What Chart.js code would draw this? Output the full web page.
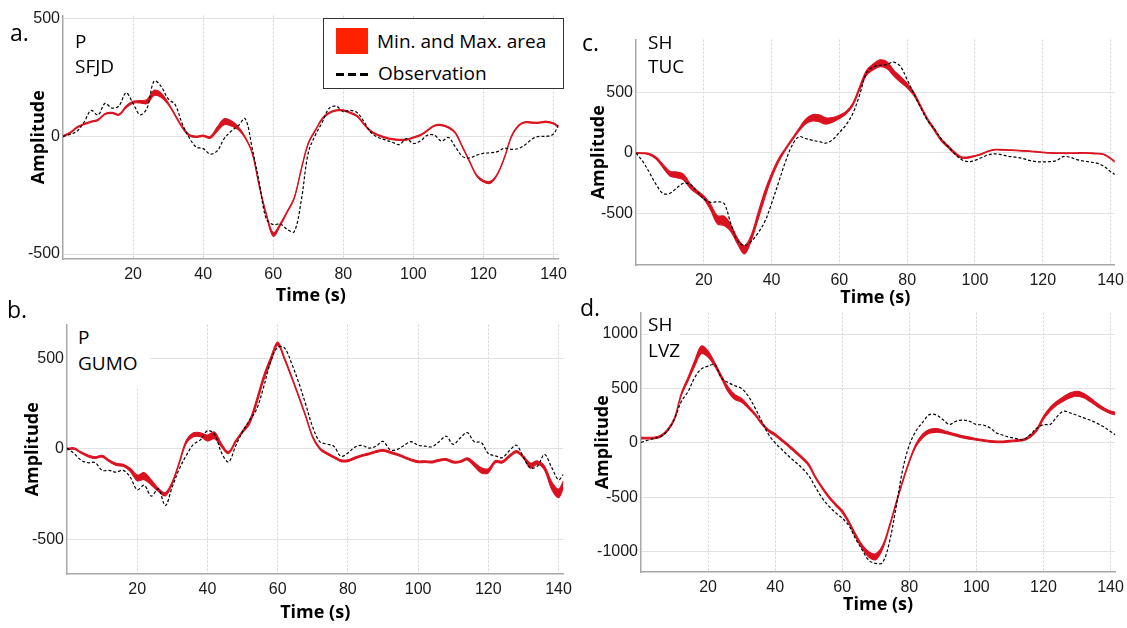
<!DOCTYPE html>
<html>
<head>
<meta charset="utf-8">
<script src="https://cdn.jsdelivr.net/npm/chart.js@4.4.0/dist/chart.umd.min.js"></script>
<style>
  body { margin: 0; width: 1127px; height: 628px; position: relative; overflow: hidden; background: #fff; font-family: 'Open Sans', sans-serif; color: #000; }
  canvas { position: absolute; z-index: 1; }
  .tag { position: absolute; z-index: 2; font-size: 23px; line-height: 23px; }
  .stn { position: absolute; z-index: 2; font-size: 19px; background: #fff; white-space: nowrap; box-sizing: border-box; }
  .lg { position: absolute; z-index: 3; }
  .lgtxt { position: absolute; z-index: 3; font-size: 19px; line-height: 19px; white-space: nowrap; }
</style>
</head>
<body>
<div class="tag" style="left:10px;top:21px">a.</div>
<div class="tag" style="left:7px;top:298px">b.</div>
<div class="tag" style="left:582px;top:31px">c.</div>
<div class="tag" style="left:580px;top:296px">d.</div>

<div class="stn" style="left:75px;top:29px;line-height:25px">P<br>SFJD</div>
<div class="stn" style="left:68px;top:323px;width:82px;height:63px;padding:1px 0 0 10px;line-height:26px">P<br>GUMO</div>
<div class="stn" style="left:648px;top:30px;line-height:24px">SH<br>TUC</div>
<div class="stn" style="left:648px;top:311px;line-height:26px">SH<br>LVZ</div>

<div class="lg" style="left:323px;top:18px;width:241px;height:71px;border:1.5px solid #333;box-sizing:border-box;background:#fff"></div>
<div class="lg" style="left:336px;top:28px;width:32px;height:26px;background:#ff2200"></div>
<div class="lg" style="left:336px;top:73px;width:8px;height:2.5px;background:#000"></div>
<div class="lg" style="left:348px;top:73px;width:8px;height:2.5px;background:#000"></div>
<div class="lg" style="left:360px;top:73px;width:8px;height:2.5px;background:#000"></div>
<div class="lgtxt" style="left:377px;top:32px">Min. and Max. area</div>
<div class="lgtxt" style="left:378px;top:64px">Observation</div>

<script>
// time axis (s)
const time = [
  0, 2, 4, 6, 8, 10, 12, 14, 16, 18, 20, 22,
  24, 26, 28, 30, 32, 34, 36, 38, 40, 42, 44, 46,
  48, 50, 52, 54, 56, 58, 60, 62, 64, 66, 68, 70,
  72, 74, 76, 78, 80, 82, 84, 86, 88, 90, 92, 94,
  96, 98, 100, 102, 104, 106, 108, 110, 112, 114, 116, 118,
  120, 122, 124, 126, 128, 130, 132, 134, 136, 138, 140, 141.4
];
const xTicks = [20, 40, 60, 80, 100, 120, 140];

// a. P - SFJD
const aObs = [
  0, 8, 22, 60, 110, 91, 140, 120, 130, 185, 140, 92,
  120, 235, 212, 160, 135, 55, -5, -45, -52, -75, -62, -10,
  22, 45, 75, -50, -195, -350, -375, -372, -395, -405, -273, -70,
  5, 60, 120, 128, 105, 110, 100, 60, 15, -5, -15, -25,
  -35, -10, -30, -20, 5, 5, -20, -5, -45, -85, -92, -80,
  -72, -70, -65, -50, -55, -52, -35, -10, 0, 0, 10, 50
];
const aRed = [
  0, 15, 38, 52, 62, 70, 95, 100, 92, 125, 145, 147,
  148, 185, 175, 140, 90, 40, 5, -2, 3, -5, 30, 62,
  55, 35, -5, -70, -210, -330, -417, -375, -320, -262, -140, -30,
  25, 75, 100, 110, 110, 100, 85, 50, 20, 5, -5, -12,
  -15, -14, -5, 5, 25, 45, 48, 38, 15, -45, -105, -165,
  -190, -195, -160, -90, 0, 45, 60, 58, 58, 62, 55, 40
];
const aSpread = [
  5, 5, 5, 5, 5, 5, 5, 5, 5, 8, 8, 10,
  18, 22, 18, 8, 6, 6, 6, 6, 6, 8, 18, 25,
  22, 12, 6, 6, 6, 10, 15, 10, 6, 6, 6, 6,
  5, 5, 5, 5, 5, 5, 5, 5, 5, 5, 5, 5,
  5, 5, 5, 5, 5, 5, 5, 5, 5, 5, 5, 6,
  8, 8, 5, 5, 5, 5, 5, 5, 5, 5, 5, 5
];
const aTicks = [-500, 0, 500];

// b. P - GUMO
const bObs = [
  5, -25, -62, -76, -75, -118, -118, -128, -118, -155, -225, -200,
  -260, -220, -312, -208, -110, -35, 25, 50, 100, 82, -20, -72,
  15, 95, 158, 218, 340, 480, 560, 555, 470, 365, 245, 120,
  40, 27, 15, -40, -22, 10, 20, 5, 15, 42, -4, -4,
  20, 40, 20, 15, 12, 40, 70, 25, 60, 90, 40, 35,
  -25, -38, -48, -10, 20, -45, -105, -95, -30, -100, -170, -140
];
const bRed = [
  0, 2, -20, -38, -48, -40, -65, -85, -90, -115, -160, -150,
  -185, -225, -250, -185, -75, 40, 78, 78, 60, 75, 20, -20,
  40, 95, 148, 260, 390, 490, 580, 495, 395, 290, 180, 65,
  2, -25, -45, -65, -65, -50, -37, -27, -15, -8, -18, -30,
  -45, -60, -71, -70, -72, -62, -58, -72, -70, -55, -85, -118,
  -120, -70, -72, -40, -15, -45, -92, -75, -105, -200, -245, -195
];
const bSpread = [
  8, 8, 8, 10, 10, 10, 10, 12, 12, 18, 32, 38,
  28, 18, 18, 12, 12, 18, 22, 22, 32, 38, 18, 12,
  12, 12, 22, 28, 28, 28, 18, 12, 12, 10, 10, 10,
  10, 10, 10, 10, 10, 10, 10, 10, 10, 10, 10, 10,
  10, 10, 10, 10, 10, 10, 10, 10, 10, 12, 22, 28,
  22, 12, 12, 12, 12, 12, 28, 18, 22, 42, 48, 38
];
const bTicks = [-500, 0, 500];

// c. SH - TUC
const cObs = [
  0, -70, -165, -265, -337, -335, -292, -252, -262, -318, -380, -410,
  -405, -420, -590, -730, -768, -735, -665, -570, -420, -250, -80, 60,
  135, 120, 105, 95, 82, 110, 170, 235, 330, 485, 665, 715,
  728, 735, 755, 720, 610, 490, 375, 270, 200, 120, 55, -5,
  -55, -72, -62, -38, -15, -8, -15, -28, -35, -45, -62, -72,
  -74, -72, -65, -30, -35, -55, -67, -75, -85, -110, -155, -180
];
const cRed = [
  0, -2, -10, -45, -110, -172, -182, -200, -275, -325, -370, -450,
  -555, -565, -625, -735, -805, -705, -525, -345, -190, -65, 28, 110,
  190, 260, 292, 288, 266, 275, 300, 335, 405, 540, 665, 715,
  745, 730, 665, 612, 560, 490, 385, 280, 195, 110, 55, 0,
  -37, -38, -25, -8, 15, 27, 26, 24, 22, 18, 15, 10,
  5, 0, -1, -2, -2, -1, 0, -2, -5, -12, -45, -75
];
const cSpread = [
  8, 8, 12, 18, 28, 38, 48, 48, 38, 28, 28, 48,
  68, 78, 58, 48, 68, 48, 58, 58, 38, 28, 18, 18,
  22, 38, 52, 58, 52, 38, 28, 22, 22, 28, 38, 48,
  58, 58, 48, 48, 38, 28, 18, 18, 18, 18, 18, 18,
  12, 12, 8, 8, 6, 6, 6, 6, 6, 6, 6, 6,
  6, 6, 6, 6, 6, 6, 6, 6, 6, 6, 8, 12
];
const cTicks = [-500, 0, 500];

// d. SH - LVZ
const dObs = [
  5, 25, 42, 60, 115, 220, 380, 470, 600, 680, 705, 720,
  595, 555, 525, 500, 430, 322, 200, 80, 0, -60, -120, -175,
  -230, -300, -405, -505, -580, -640, -690, -760, -880, -985, -1080, -1106,
  -1100, -920, -600, -250, -20, 110, 190, 260, 258, 215, 170, 200,
  210, 198, 170, 165, 140, 92, 70, 52, 40, 30, 75, 135,
  168, 170, 240, 292, 275, 255, 230, 208, 180, 148, 105, 76
];
const dRed = [
  45, 45, 46, 65, 120, 225, 445, 585, 730, 855, 815, 720,
  605, 490, 420, 392, 330, 262, 180, 115, 75, 25, -25, -80,
  -135, -200, -315, -410, -495, -565, -630, -730, -850, -955, -1025, -1045,
  -960, -775, -560, -355, -170, -20, 65, 106, 115, 105, 88, 72,
  55, 44, 33, 23, 15, 10, 10, 16, 22, 28, 60, 120,
  230, 310, 365, 405, 438, 452, 435, 395, 350, 310, 280, 272
];
const dSpread = [
  15, 15, 15, 15, 20, 20, 25, 35, 50, 70, 55, 35,
  30, 45, 45, 35, 25, 20, 20, 20, 20, 20, 20, 20,
  20, 20, 20, 20, 20, 20, 25, 25, 30, 35, 50, 55,
  35, 25, 20, 20, 20, 25, 35, 35, 35, 25, 20, 20,
  20, 20, 15, 15, 15, 15, 15, 15, 15, 15, 20, 25,
  30, 35, 35, 40, 45, 45, 40, 35, 30, 25, 25, 25
];
const dTicks = [-1000, -500, 0, 500, 1000];

const RED = 'rgb(218,18,32)';
const YW = 60, PT = 10, PR = 14, XH = 52;
const tickFont = { family: "'Liberation Sans Narrow', 'Liberation Sans', sans-serif", size: 16 };
const titleFont = { family: "'Open Sans', sans-serif", size: 18, weight: 'bold' };

const panels = [
  { obs: aObs, red: aRed, spread: aSpread, yTicks: aTicks, area: { l: 63, t: 13, r: 559, b: 259 }, xMax: 141.5, yMin: -521, yMax: 513, yPad: 25, xPad: 4 },
  { obs: bObs, red: bRed, spread: bSpread, yTicks: bTicks, area: { l: 67, t: 322, r: 564, b: 574 }, xMax: 141.4, yMin: -689, yMax: 685, yPad: 15, xPad: 2 },
  { obs: cObs, red: cRed, spread: cSpread, yTicks: cTicks, area: { l: 636, t: 37, r: 1116, b: 265 }, xMax: 141.2, yMin: -931, yMax: 942, yPad: 12, xPad: 8 },
  { obs: dObs, red: dRed, spread: dSpread, yTicks: dTicks, area: { l: 641, t: 310, r: 1116, b: 572 }, xMax: 141.4, yMin: -1185, yMax: 1197, yPad: 11, xPad: 8 }
];

panels.forEach(p => {
  const { l, t, r, b } = p.area;
  const W = r - l + YW + PR, H = b - t + PT + XH;
  const cv = document.createElement('canvas');
  cv.width = W; cv.height = H;
  cv.style.left = (l - YW) + 'px'; cv.style.top = (t - PT) + 'px';
  cv.style.width = W + 'px'; cv.style.height = H + 'px';
  document.body.appendChild(cv);

  const obs = p.obs.map((v, i) => ({ x: time[i], y: v }));
  const hi = p.red.map((v, i) => ({ x: time[i], y: v + p.spread[i] / 2 }));
  const lo = p.red.map((v, i) => ({ x: time[i], y: v - p.spread[i] / 2 }));

  new Chart(cv, {
    type: 'line',
    data: {
      datasets: [
        { label: 'Observation', data: obs, borderColor: '#000', borderWidth: 1.2, borderDash: [3, 2], fill: false },
        { label: 'Max', data: hi, borderColor: RED, borderWidth: 1.1, fill: false },
        { label: 'Min', data: lo, borderColor: RED, borderWidth: 1.1, backgroundColor: RED, fill: '-1' }
      ]
    },
    options: {
      responsive: false,
      animation: false,
      events: [],
      layout: { padding: { top: PT, right: PR, left: 0, bottom: 0 } },
      elements: { point: { radius: 0 }, line: { tension: 0.35 } },
      plugins: { legend: { display: false }, tooltip: { enabled: false } },
      scales: {
        x: {
          type: 'linear', min: 0, max: p.xMax,
          afterBuildTicks: s => { s.ticks = xTicks.map(v => ({ value: v })); },
          afterFit: s => { s.height = XH; },
          grid: { color: '#d2d2d2', lineWidth: 1, drawTicks: false },
          border: { color: '#a8a8a8', width: 1.5, dash: [2, 2] },
          ticks: { padding: 6, color: '#1a1a1a', font: tickFont, maxRotation: 0, autoSkip: false, callback: v => String(v) },
          title: { display: true, text: 'Time (s)', color: '#000', font: titleFont, padding: { top: 0, bottom: p.xPad } }
        },
        y: {
          type: 'linear', min: p.yMin, max: p.yMax,
          afterBuildTicks: s => { s.ticks = p.yTicks.map(v => ({ value: v })); },
          afterFit: s => { s.width = YW; },
          grid: { color: '#e2e2e2', lineWidth: 1, drawTicks: false },
          border: { color: '#a8a8a8', width: 1.5 },
          ticks: { padding: 3, color: '#1a1a1a', font: tickFont, autoSkip: false, callback: v => String(v) },
          title: { display: true, text: 'Amplitude', color: '#000', font: titleFont, padding: { top: p.yPad, bottom: 0 } }
        }
      }
    }
  });
});
</script>
</body>
</html>
